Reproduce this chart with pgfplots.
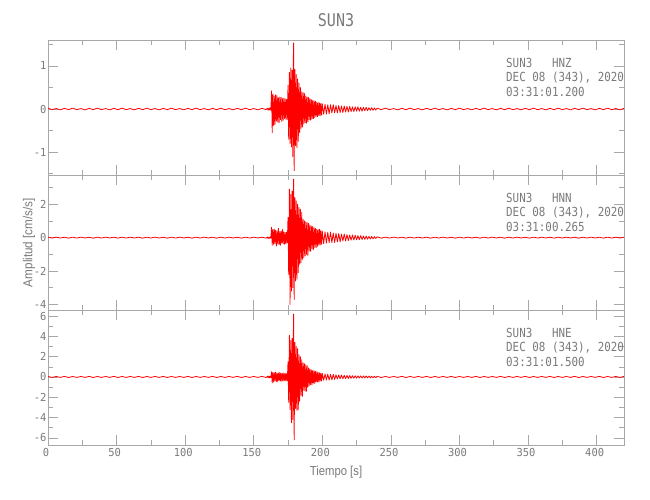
\documentclass[border=0pt]{standalone}
\usepackage{fontspec}
\setmainfont{Liberation Sans}
\newfontfamily\sacmono{DejaVu Sans Mono}
\usepackage{pgfplots}
\usepackage{pgfplotstable}
\pgfplotsset{compat=1.18}
\definecolor{axgray}{HTML}{A8A8A8}
\definecolor{txtgray}{HTML}{7A7A7A}

\pgfplotstableread{
t z n e
0 0.02 0.03 0.05
3 -0.015 -0.025 -0.04
6 0.01 0.03 0.05
9 -0.02 -0.02 -0.04
12 0.015 0.025 0.06
15 -0.015 -0.03 -0.05
18 0.02 0.03 0.05
21 -0.015 -0.025 -0.04
24 0.01 0.03 0.05
27 -0.02 -0.02 -0.04
30 0.015 0.025 0.06
33 -0.015 -0.03 -0.05
36 0.02 0.03 0.05
39 -0.015 -0.025 -0.04
42 0.01 0.03 0.05
45 -0.02 -0.02 -0.04
48 0.015 0.025 0.06
51 -0.015 -0.03 -0.05
54 0.02 0.03 0.05
57 -0.015 -0.025 -0.04
60 0.01 0.03 0.05
63 -0.02 -0.02 -0.04
66 0.015 0.025 0.06
69 -0.015 -0.03 -0.05
72 0.02 0.03 0.05
75 -0.015 -0.025 -0.04
78 0.01 0.03 0.05
81 -0.02 -0.02 -0.04
84 0.015 0.025 0.06
87 -0.015 -0.03 -0.05
90 0.02 0.03 0.05
93 -0.015 -0.025 -0.04
96 0.01 0.03 0.05
99 -0.02 -0.02 -0.04
102 0.015 0.025 0.06
105 -0.015 -0.03 -0.05
108 0.02 0.03 0.05
111 -0.015 -0.025 -0.04
114 0.01 0.03 0.05
117 -0.02 -0.02 -0.04
120 0.015 0.025 0.06
123 -0.015 -0.03 -0.05
126 0.02 0.03 0.05
129 -0.015 -0.025 -0.04
132 0.01 0.03 0.05
135 -0.02 -0.02 -0.04
138 0.015 0.025 0.06
141 -0.015 -0.03 -0.05
144 0.02 0.03 0.05
147 -0.015 -0.025 -0.04
150 0.01 0.03 0.05
153 -0.02 -0.02 -0.04
156 0.015 0.025 0.06
159 -0.015 -0.03 -0.05
160.0 0.02 0.04 0.08
160.5 -0.03 -0.05 -0.07
161.0 0.02 0.03 0.09
161.5 -0.02 -0.04 -0.08
162.0 0.03 0.05 0.07
162.5 -0.03 -0.04 -0.09
163.0 0.42 0.62 0.52
163.5 -0.55 -0.46 -0.60
164.0 0.35 0.48 0.45
164.5 -0.38 -0.40 -0.50
165.0 0.30 0.52 0.42
165.5 -0.36 -0.35 -0.38
166.0 0.33 0.45 0.48
166.5 -0.28 -0.50 -0.44
167.0 0.31 0.40 0.36
167.5 -0.30 -0.38 -0.46
168.0 0.26 0.55 0.40
168.5 -0.32 -0.42 -0.35
169.0 0.28 0.36 0.44
169.5 -0.25 -0.45 -0.40
170.0 0.27 0.40 0.38
170.5 -0.29 -0.33 -0.42
171.0 0.24 0.48 0.35
171.5 -0.26 -0.36 -0.39
172.0 0.25 0.35 0.40
172.5 -0.22 -0.40 -0.34
173.0 0.23 0.30 0.37
173.5 -0.24 -0.36 -0.40
174.0 0.22 0.33 0.32
174.5 -0.25 -0.30 -0.38
175.0 0.55 1.20 1.50
175.5 -0.70 -2.20 -2.50
176.0 0.85 2.90 4.10
176.5 -0.80 -4.00 -3.20
177.0 0.95 2.60 3.60
177.5 -0.88 -3.20 -4.50
178.0 0.90 2.80 3.80
178.5 -1.10 -3.00 -4.20
178.8 1.05 2.20 3.30
179.1 1.53 3.50 6.20
179.5 -1.43 -3.70 -6.20
180.0 0.92 2.40 3.40
180.5 -0.85 -2.60 -3.10
181.0 0.80 2.20 3.00
181.5 -0.90 -2.50 -3.30
182.0 0.70 2.00 2.80
182.5 -0.75 -2.10 -3.20
183.0 0.60 1.80 2.20
183.5 -0.55 -1.60 -2.40
184.0 0.50 1.70 2.00
184.5 -0.45 -1.50 -1.80
185.0 0.40 1.50 1.70
185.5 -0.42 -1.30 -1.90
186.0 0.38 1.10 1.40
186.5 -0.35 -1.20 -1.30
187.0 0.36 1.00 1.30
187.5 -0.32 -1.10 -1.40
188.0 0.30 0.95 1.20
188.5 -0.33 -1.00 -1.40
189.0 0.28 0.90 1.10
189.5 -0.30 -1.06 -1.00
190.0 0.27 0.85 0.90
190.5 -0.25 -0.80 -0.85
191.0 0.24 0.75 0.80
191.5 -0.26 -0.82 -0.75
192.0 0.22 0.70 0.70
192.5 -0.23 -0.65 -0.78
193.0 0.20 0.68 0.65
193.5 -0.22 -0.72 -0.60
194.0 0.19 0.60 0.62
194.5 -0.20 -0.58 -0.66
195.0 0.18 0.55 0.55
195.5 -0.17 -0.60 -0.50
196.0 0.16 0.50 0.52
196.5 -0.18 -0.52 -0.48
197.0 0.15 0.48 0.45
197.5 -0.16 -0.45 -0.50
198.0 0.14 0.50 0.42
198.5 -0.15 -0.44 -0.40
199.0 0.13 0.42 0.38
199.5 -0.14 -0.40 -0.40
200.0 0.12 0.38 0.35
201 -0.12 -0.36 -0.32
202 0.11 0.35 0.30
203 -0.12 -0.33 -0.30
204 0.10 0.32 0.28
205 -0.11 -0.30 -0.30
206 0.10 0.34 0.26
207 -0.09 -0.30 -0.28
208 0.10 0.28 0.25
209 -0.09 -0.30 -0.24
210 0.08 0.26 0.22
211 -0.09 -0.25 -0.20
212 0.08 0.24 0.20
213 -0.08 -0.25 -0.18
214 0.07 0.22 0.19
215 -0.08 -0.20 -0.17
216 0.07 0.22 0.16
217 -0.07 -0.20 -0.16
218 0.06 0.18 0.15
219 -0.07 -0.18 -0.15
220 0.06 0.16 0.14
221 -0.06 -0.15 -0.13
222 0.05 0.16 0.13
223 -0.06 -0.14 -0.12
224 0.05 0.14 0.12
225 -0.05 -0.13 -0.12
226 0.05 0.12 0.11
227 -0.05 -0.12 -0.10
228 0.04 0.12 0.11
229 -0.05 -0.11 -0.10
230 0.04 0.10 0.10
231 -0.04 -0.10 -0.09
232 0.04 0.09 0.10
233 -0.04 -0.09 -0.09
234 0.03 0.08 0.09
235 -0.03 -0.08 -0.09
236 0.03 0.07 0.08
237 -0.03 -0.07 -0.08
238 0.025 0.06 0.07
239 -0.025 -0.05 -0.07
240 0.02 0.05 0.06
243 -0.015 -0.03 -0.05
246 0.02 0.03 0.05
249 -0.015 -0.025 -0.04
252 0.01 0.03 0.05
255 -0.02 -0.02 -0.04
258 0.015 0.025 0.06
261 -0.015 -0.03 -0.05
264 0.02 0.03 0.05
267 -0.015 -0.025 -0.04
270 0.01 0.03 0.05
273 -0.02 -0.02 -0.04
276 0.015 0.025 0.06
279 -0.015 -0.03 -0.05
282 0.02 0.03 0.05
285 -0.015 -0.025 -0.04
288 0.01 0.03 0.05
291 -0.02 -0.02 -0.04
294 0.015 0.025 0.06
297 -0.015 -0.03 -0.05
300 0.02 0.03 0.05
303 -0.015 -0.025 -0.04
306 0.01 0.03 0.05
309 -0.02 -0.02 -0.04
312 0.015 0.025 0.06
315 -0.015 -0.03 -0.05
318 0.02 0.03 0.05
321 -0.015 -0.025 -0.04
324 0.01 0.03 0.05
327 -0.02 -0.02 -0.04
330 0.015 0.025 0.06
333 -0.015 -0.03 -0.05
336 0.02 0.03 0.05
339 -0.015 -0.025 -0.04
342 0.01 0.03 0.05
345 -0.02 -0.02 -0.04
348 0.015 0.025 0.06
351 -0.015 -0.03 -0.05
354 0.02 0.03 0.05
357 -0.015 -0.025 -0.04
360 0.01 0.03 0.05
363 -0.02 -0.02 -0.04
366 0.015 0.025 0.06
369 -0.015 -0.03 -0.05
372 0.02 0.03 0.05
375 -0.015 -0.025 -0.04
378 0.01 0.03 0.05
381 -0.02 -0.02 -0.04
384 0.015 0.025 0.06
387 -0.015 -0.03 -0.05
390 0.02 0.03 0.05
393 -0.015 -0.025 -0.04
396 0.01 0.03 0.05
399 -0.02 -0.02 -0.04
402 0.015 0.025 0.06
405 -0.015 -0.03 -0.05
408 0.02 0.03 0.05
411 -0.015 -0.025 -0.04
414 0.01 0.03 0.05
417 -0.02 -0.02 -0.04
420 0.015 0.025 0.06
}\seis

\pgfplotsset{
  seis/.style={
    scale only axis, width=576pt, height=135pt,
    anchor=south west,
    xmin=0, xmax=420,
    axis line style={axgray, line width=0.6pt},
    every tick/.style={axgray, line width=0.6pt},
    major tick length=10pt, minor tick length=5pt,
    tick align=inside,
    xtick={0,50,...,400}, minor xtick={25,75,...,375},
    ticklabel style={font=\sacmono\fontsize{11}{11}\selectfont, text=txtgray, xscale=0.95},
    yticklabel style={inner sep=1.5pt},
    xticklabel style={xshift=-2pt},
    /pgf/number format/assume math mode=true,
    clip=true,
  },
  trace/.style={red, line width=0.8pt, line join=round, line cap=round},
}

\begin{document}
\begin{tikzpicture}
\path[use as bounding box] (0,0) rectangle (650pt,500pt);

\begin{axis}[seis, name=top, at={(48pt,325pt)},
  ymin=-1.53, ymax=1.6,
  ytick={-1,0,1}, minor ytick={-1.5,-0.5,0.5,1.5},
  xticklabels={}]
  \addplot[trace] table[x=t, y=z] {\seis};
\end{axis}

\begin{axis}[seis, name=mid, at={(48pt,190pt)},
  ymin=-4.33, ymax=3.75,
  ytick={-4,-2,0,2}, minor ytick={-3,-1,1,3},
  xticklabels={}]
  \addplot[trace] table[x=t, y=n] {\seis};
\end{axis}

\begin{axis}[seis, name=bot, at={(48pt,55pt)},
  ymin=-6.7, ymax=6.6,
  ytick={-6,-4,...,6}, minor ytick={-5,-3,...,5}]
  \addplot[trace] table[x=t, y=e] {\seis};
\end{axis}

% title and labels
\node[anchor=center, text=txtgray, font=\sacmono\fontsize{17.5}{17.5}\selectfont, xscale=0.86]
  at ([yshift=20pt]top.north) {SUN3};
\node[anchor=center, text=txtgray, font=\fontsize{13}{13}\selectfont, xscale=0.87]
  at ([yshift=-27pt]bot.south) {Tiempo [s]};
\node[anchor=center, rotate=90, text=txtgray, font=\fontsize{13}{13}\selectfont, xscale=0.9]
  at ([xshift=-19pt]mid.west) {Amplitud [cm/s/s]};

% annotations
\foreach \ax/\ch/\tm in {top/HNZ/03:31:01.200, mid/HNN/03:31:00.265, bot/HNE/03:31:01.500}{
  \node[anchor=base west, text=txtgray, font=\sacmono\fontsize{12.5}{12.5}\selectfont, xscale=0.87, inner sep=0pt]
    at ([xshift=458pt, yshift=-27.2pt]\ax.north west) {SUN3\ \ \ \ch};
  \node[anchor=base west, text=txtgray, font=\sacmono\fontsize{12.5}{12.5}\selectfont, xscale=0.87, inner sep=0pt]
    at ([xshift=458pt, yshift=-41.7pt]\ax.north west) {DEC 08 (343), 2020};
  \node[anchor=base west, text=txtgray, font=\sacmono\fontsize{12.5}{12.5}\selectfont, xscale=0.87, inner sep=0pt]
    at ([xshift=458pt, yshift=-56.2pt]\ax.north west) {\tm};
}
\end{tikzpicture}
\end{document}
